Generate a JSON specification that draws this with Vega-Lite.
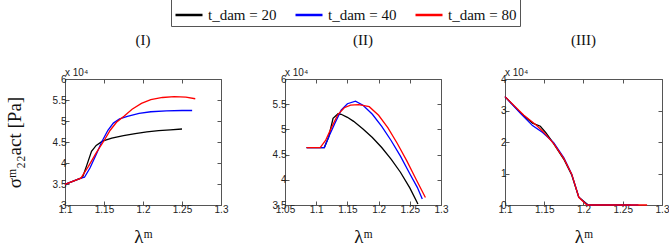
{
  "$schema": "https://vega.github.io/schema/vega-lite/v6.json",
  "padding": {"left": 4, "top": -4, "right": 2, "bottom": 2},
  "background": "white",
  "data": {"values": [
    {"p": "I", "t": "t_dam = 20", "lam": 1.1, "sig": 3.49},
    {"p": "I", "t": "t_dam = 20", "lam": 1.1204, "sig": 3.64},
    {"p": "I", "t": "t_dam = 20", "lam": 1.1225, "sig": 3.66},
    {"p": "I", "t": "t_dam = 20", "lam": 1.128, "sig": 3.95},
    {"p": "I", "t": "t_dam = 20", "lam": 1.134, "sig": 4.28},
    {"p": "I", "t": "t_dam = 20", "lam": 1.14, "sig": 4.42},
    {"p": "I", "t": "t_dam = 20", "lam": 1.148, "sig": 4.52},
    {"p": "I", "t": "t_dam = 20", "lam": 1.16, "sig": 4.59},
    {"p": "I", "t": "t_dam = 20", "lam": 1.175, "sig": 4.65},
    {"p": "I", "t": "t_dam = 20", "lam": 1.19, "sig": 4.7},
    {"p": "I", "t": "t_dam = 20", "lam": 1.205, "sig": 4.74},
    {"p": "I", "t": "t_dam = 20", "lam": 1.22, "sig": 4.77},
    {"p": "I", "t": "t_dam = 20", "lam": 1.235, "sig": 4.79},
    {"p": "I", "t": "t_dam = 20", "lam": 1.25, "sig": 4.81},
    {"p": "I", "t": "t_dam = 40", "lam": 1.1, "sig": 3.49},
    {"p": "I", "t": "t_dam = 40", "lam": 1.1204, "sig": 3.64},
    {"p": "I", "t": "t_dam = 40", "lam": 1.125, "sig": 3.66},
    {"p": "I", "t": "t_dam = 40", "lam": 1.132, "sig": 3.88},
    {"p": "I", "t": "t_dam = 40", "lam": 1.14, "sig": 4.2},
    {"p": "I", "t": "t_dam = 40", "lam": 1.147, "sig": 4.5},
    {"p": "I", "t": "t_dam = 40", "lam": 1.155, "sig": 4.78},
    {"p": "I", "t": "t_dam = 40", "lam": 1.162, "sig": 4.95},
    {"p": "I", "t": "t_dam = 40", "lam": 1.17, "sig": 5.05},
    {"p": "I", "t": "t_dam = 40", "lam": 1.18, "sig": 5.11},
    {"p": "I", "t": "t_dam = 40", "lam": 1.195, "sig": 5.18},
    {"p": "I", "t": "t_dam = 40", "lam": 1.21, "sig": 5.22},
    {"p": "I", "t": "t_dam = 40", "lam": 1.23, "sig": 5.24},
    {"p": "I", "t": "t_dam = 40", "lam": 1.25, "sig": 5.25},
    {"p": "I", "t": "t_dam = 40", "lam": 1.263, "sig": 5.25},
    {"p": "I", "t": "t_dam = 80", "lam": 1.1, "sig": 3.49},
    {"p": "I", "t": "t_dam = 80", "lam": 1.1204, "sig": 3.64},
    {"p": "I", "t": "t_dam = 80", "lam": 1.13, "sig": 3.92},
    {"p": "I", "t": "t_dam = 80", "lam": 1.14, "sig": 4.24},
    {"p": "I", "t": "t_dam = 80", "lam": 1.15, "sig": 4.53},
    {"p": "I", "t": "t_dam = 80", "lam": 1.158, "sig": 4.78},
    {"p": "I", "t": "t_dam = 80", "lam": 1.166, "sig": 4.97},
    {"p": "I", "t": "t_dam = 80", "lam": 1.176, "sig": 5.12},
    {"p": "I", "t": "t_dam = 80", "lam": 1.186, "sig": 5.28},
    {"p": "I", "t": "t_dam = 80", "lam": 1.198, "sig": 5.42},
    {"p": "I", "t": "t_dam = 80", "lam": 1.21, "sig": 5.51},
    {"p": "I", "t": "t_dam = 80", "lam": 1.225, "sig": 5.56},
    {"p": "I", "t": "t_dam = 80", "lam": 1.24, "sig": 5.58},
    {"p": "I", "t": "t_dam = 80", "lam": 1.255, "sig": 5.57},
    {"p": "I", "t": "t_dam = 80", "lam": 1.267, "sig": 5.53},

    {"p": "II", "t": "t_dam = 20", "lam": 1.0846, "sig": 4.64},
    {"p": "II", "t": "t_dam = 20", "lam": 1.113, "sig": 4.64},
    {"p": "II", "t": "t_dam = 20", "lam": 1.12, "sig": 4.85},
    {"p": "II", "t": "t_dam = 20", "lam": 1.127, "sig": 5.22},
    {"p": "II", "t": "t_dam = 20", "lam": 1.135, "sig": 5.31},
    {"p": "II", "t": "t_dam = 20", "lam": 1.14, "sig": 5.3},
    {"p": "II", "t": "t_dam = 20", "lam": 1.15, "sig": 5.24},
    {"p": "II", "t": "t_dam = 20", "lam": 1.16, "sig": 5.16},
    {"p": "II", "t": "t_dam = 20", "lam": 1.175, "sig": 5.01},
    {"p": "II", "t": "t_dam = 20", "lam": 1.19, "sig": 4.84},
    {"p": "II", "t": "t_dam = 20", "lam": 1.205, "sig": 4.64},
    {"p": "II", "t": "t_dam = 20", "lam": 1.22, "sig": 4.41},
    {"p": "II", "t": "t_dam = 20", "lam": 1.235, "sig": 4.15},
    {"p": "II", "t": "t_dam = 20", "lam": 1.25, "sig": 3.84},
    {"p": "II", "t": "t_dam = 20", "lam": 1.263, "sig": 3.52},
    {"p": "II", "t": "t_dam = 40", "lam": 1.0846, "sig": 4.64},
    {"p": "II", "t": "t_dam = 40", "lam": 1.113, "sig": 4.64},
    {"p": "II", "t": "t_dam = 40", "lam": 1.12, "sig": 4.85},
    {"p": "II", "t": "t_dam = 40", "lam": 1.13, "sig": 5.12},
    {"p": "II", "t": "t_dam = 40", "lam": 1.14, "sig": 5.38},
    {"p": "II", "t": "t_dam = 40", "lam": 1.15, "sig": 5.51},
    {"p": "II", "t": "t_dam = 40", "lam": 1.163, "sig": 5.56},
    {"p": "II", "t": "t_dam = 40", "lam": 1.175, "sig": 5.48},
    {"p": "II", "t": "t_dam = 40", "lam": 1.19, "sig": 5.3},
    {"p": "II", "t": "t_dam = 40", "lam": 1.205, "sig": 5.06},
    {"p": "II", "t": "t_dam = 40", "lam": 1.22, "sig": 4.78},
    {"p": "II", "t": "t_dam = 40", "lam": 1.235, "sig": 4.47},
    {"p": "II", "t": "t_dam = 40", "lam": 1.25, "sig": 4.12},
    {"p": "II", "t": "t_dam = 40", "lam": 1.262, "sig": 3.85},
    {"p": "II", "t": "t_dam = 40", "lam": 1.27, "sig": 3.62},
    {"p": "II", "t": "t_dam = 80", "lam": 1.0846, "sig": 4.64},
    {"p": "II", "t": "t_dam = 80", "lam": 1.1064, "sig": 4.64},
    {"p": "II", "t": "t_dam = 80", "lam": 1.115, "sig": 4.78},
    {"p": "II", "t": "t_dam = 80", "lam": 1.125, "sig": 5.05},
    {"p": "II", "t": "t_dam = 80", "lam": 1.135, "sig": 5.3},
    {"p": "II", "t": "t_dam = 80", "lam": 1.145, "sig": 5.43},
    {"p": "II", "t": "t_dam = 80", "lam": 1.155, "sig": 5.48},
    {"p": "II", "t": "t_dam = 80", "lam": 1.168, "sig": 5.49},
    {"p": "II", "t": "t_dam = 80", "lam": 1.185, "sig": 5.45},
    {"p": "II", "t": "t_dam = 80", "lam": 1.2, "sig": 5.28},
    {"p": "II", "t": "t_dam = 80", "lam": 1.215, "sig": 5.03},
    {"p": "II", "t": "t_dam = 80", "lam": 1.23, "sig": 4.72},
    {"p": "II", "t": "t_dam = 80", "lam": 1.245, "sig": 4.38},
    {"p": "II", "t": "t_dam = 80", "lam": 1.26, "sig": 4.01},
    {"p": "II", "t": "t_dam = 80", "lam": 1.275, "sig": 3.65},

    {"p": "III", "t": "t_dam = 20", "lam": 1.1, "sig": 3.44},
    {"p": "III", "t": "t_dam = 20", "lam": 1.12, "sig": 2.92},
    {"p": "III", "t": "t_dam = 20", "lam": 1.135, "sig": 2.6},
    {"p": "III", "t": "t_dam = 20", "lam": 1.145, "sig": 2.5},
    {"p": "III", "t": "t_dam = 20", "lam": 1.152, "sig": 2.3},
    {"p": "III", "t": "t_dam = 20", "lam": 1.162, "sig": 1.95},
    {"p": "III", "t": "t_dam = 20", "lam": 1.175, "sig": 1.45},
    {"p": "III", "t": "t_dam = 20", "lam": 1.185, "sig": 0.95},
    {"p": "III", "t": "t_dam = 20", "lam": 1.194, "sig": 0.25},
    {"p": "III", "t": "t_dam = 20", "lam": 1.206, "sig": 0},
    {"p": "III", "t": "t_dam = 20", "lam": 1.26, "sig": 0},
    {"p": "III", "t": "t_dam = 40", "lam": 1.1, "sig": 3.44},
    {"p": "III", "t": "t_dam = 40", "lam": 1.12, "sig": 2.9},
    {"p": "III", "t": "t_dam = 40", "lam": 1.135, "sig": 2.52},
    {"p": "III", "t": "t_dam = 40", "lam": 1.148, "sig": 2.3},
    {"p": "III", "t": "t_dam = 40", "lam": 1.162, "sig": 1.98},
    {"p": "III", "t": "t_dam = 40", "lam": 1.175, "sig": 1.5},
    {"p": "III", "t": "t_dam = 40", "lam": 1.185, "sig": 0.98},
    {"p": "III", "t": "t_dam = 40", "lam": 1.194, "sig": 0.25},
    {"p": "III", "t": "t_dam = 40", "lam": 1.205, "sig": 0},
    {"p": "III", "t": "t_dam = 40", "lam": 1.27, "sig": 0},
    {"p": "III", "t": "t_dam = 80", "lam": 1.1, "sig": 3.44},
    {"p": "III", "t": "t_dam = 80", "lam": 1.124, "sig": 2.85},
    {"p": "III", "t": "t_dam = 80", "lam": 1.14, "sig": 2.53},
    {"p": "III", "t": "t_dam = 80", "lam": 1.149, "sig": 2.32},
    {"p": "III", "t": "t_dam = 80", "lam": 1.162, "sig": 1.95},
    {"p": "III", "t": "t_dam = 80", "lam": 1.175, "sig": 1.47},
    {"p": "III", "t": "t_dam = 80", "lam": 1.185, "sig": 0.98},
    {"p": "III", "t": "t_dam = 80", "lam": 1.194, "sig": 0.245},
    {"p": "III", "t": "t_dam = 80", "lam": 1.2045, "sig": 0},
    {"p": "III", "t": "t_dam = 80", "lam": 1.281, "sig": 0}
  ]},
  "config": {
    "view": {"stroke": "#555555", "strokeWidth": 1},
    "axis": {
      "grid": false, "domain": false,
      "labelFont": "Liberation Sans", "labelFontSize": 10, "labelColor": "#222222",
      "tickColor": "#555555", "tickSize": -4, "labelPadding": 3,
      "titleFont": "Liberation Serif", "titleFontWeight": "normal", "titleFontSize": 19, "titleColor": "#111111"
    },
    "title": {"font": "Liberation Serif", "fontSize": 15, "fontWeight": "normal", "color": "#111111", "anchor": "middle"},
    "legend": {
      "orient": "none", "legendX": 106, "legendY": -82, "direction": "horizontal",
      "strokeColor": "#555555", "fillColor": "white", "padding": 3,
      "symbolType": "stroke", "symbolStrokeWidth": 2.5, "symbolSize": 729,
      "labelFont": "Liberation Serif", "labelFontSize": 15, "labelColor": "#111111",
      "columnPadding": 13, "labelOffset": 4
    }
  },
  "spacing": 64,
  "bounds": "flush",
  "hconcat": [
    {
      "title": {"text": "(I)", "offset": 20},
      "width": 156, "height": 126,
      "resolve": {"axis": {"x": "independent", "y": "independent"}},
      "layer": [
        {
          "transform": [{"filter": "datum.p == 'I'"}],
          "mark": {"type": "line", "strokeWidth": 1.3},
          "encoding": {
            "x": {"field": "lam", "type": "quantitative", "scale": {"domain": [1.1, 1.3], "nice": false, "zero": false},
                  "axis": {"values": [1.1, 1.15, 1.2, 1.25, 1.3], "format": "~g", "labelOverlap": false, "labelBound": false, "labelFlush": false, "title": "λᵐ", "titlePadding": 13}},
            "y": {"field": "sig", "type": "quantitative", "scale": {"domain": [3, 6], "nice": false, "zero": false},
                  "axis": {"values": [3, 3.5, 4, 4.5, 5, 5.5, 6], "format": "~g", "labelOverlap": false, "labelBound": false, "labelFlush": false, "title": "σᵐ₂₂act [Pa]", "titlePadding": 28}},
            "color": {"field": "t", "type": "nominal", "title": null,
                      "scale": {"domain": ["t_dam = 20", "t_dam = 40", "t_dam = 80"], "range": ["#000000", "#0000ff", "#ff0000"]}}
          }
        },
        {
          "transform": [{"filter": "datum.p == 'I'"}],
          "mark": {"type": "line", "strokeOpacity": 0},
          "encoding": {
            "x": {"field": "lam", "type": "quantitative", "axis": {"orient": "top", "values": [1.1, 1.15, 1.2, 1.25, 1.3], "labels": false, "title": null}},
            "y": {"field": "sig", "type": "quantitative", "axis": {"orient": "right", "values": [3, 3.5, 4, 4.5, 5, 5.5, 6], "labels": false, "title": null}}
          }
        },
        {
          "data": {"values": [{"label": "x 10⁴"}]},
          "mark": {"type": "text", "align": "left", "baseline": "bottom", "dy": -1, "font": "Liberation Sans", "fontSize": 10, "color": "#222222"},
          "encoding": {"x": {"datum": 1.1, "axis": null}, "y": {"datum": 6, "axis": null}, "text": {"field": "label"}}
        }
      ]
    },
    {
      "title": {"text": "(II)", "offset": 20},
      "width": 156, "height": 126,
      "resolve": {"axis": {"x": "independent", "y": "independent"}},
      "layer": [
        {
          "transform": [{"filter": "datum.p == 'II'"}],
          "mark": {"type": "line", "strokeWidth": 1.3},
          "encoding": {
            "x": {"field": "lam", "type": "quantitative", "scale": {"domain": [1.05, 1.3], "nice": false, "zero": false},
                  "axis": {"values": [1.05, 1.1, 1.15, 1.2, 1.25, 1.3], "format": "~g", "labelOverlap": false, "labelBound": false, "labelFlush": false, "title": "λᵐ", "titlePadding": 13}},
            "y": {"field": "sig", "type": "quantitative", "scale": {"domain": [3.5, 6], "nice": false, "zero": false},
                  "axis": {"values": [3.5, 4, 4.5, 5, 5.5, 6], "format": "~g", "labelOverlap": false, "labelBound": false, "labelFlush": false, "title": null}},
            "color": {"field": "t", "type": "nominal", "title": null,
                      "scale": {"domain": ["t_dam = 20", "t_dam = 40", "t_dam = 80"], "range": ["#000000", "#0000ff", "#ff0000"]}}
          }
        },
        {
          "transform": [{"filter": "datum.p == 'II'"}],
          "mark": {"type": "line", "strokeOpacity": 0},
          "encoding": {
            "x": {"field": "lam", "type": "quantitative", "axis": {"orient": "top", "values": [1.05, 1.1, 1.15, 1.2, 1.25, 1.3], "labels": false, "title": null}},
            "y": {"field": "sig", "type": "quantitative", "axis": {"orient": "right", "values": [3.5, 4, 4.5, 5, 5.5, 6], "labels": false, "title": null}}
          }
        },
        {
          "data": {"values": [{"label": "x 10⁴"}]},
          "mark": {"type": "text", "align": "left", "baseline": "bottom", "dy": -1, "font": "Liberation Sans", "fontSize": 10, "color": "#222222"},
          "encoding": {"x": {"datum": 1.05, "axis": null}, "y": {"datum": 6, "axis": null}, "text": {"field": "label"}}
        }
      ]
    },
    {
      "title": {"text": "(III)", "offset": 20},
      "width": 157, "height": 126,
      "resolve": {"axis": {"x": "independent", "y": "independent"}},
      "layer": [
        {
          "transform": [{"filter": "datum.p == 'III'"}],
          "mark": {"type": "line", "strokeWidth": 1.3},
          "encoding": {
            "x": {"field": "lam", "type": "quantitative", "scale": {"domain": [1.1, 1.3], "nice": false, "zero": false},
                  "axis": {"values": [1.1, 1.15, 1.2, 1.25, 1.3], "format": "~g", "labelOverlap": false, "labelBound": false, "labelFlush": false, "title": "λᵐ", "titlePadding": 13}},
            "y": {"field": "sig", "type": "quantitative", "scale": {"domain": [0, 4], "nice": false, "zero": false},
                  "axis": {"values": [0, 1, 2, 3, 4], "format": "~g", "labelOverlap": false, "labelBound": false, "labelFlush": false, "title": null}},
            "color": {"field": "t", "type": "nominal", "title": null,
                      "scale": {"domain": ["t_dam = 20", "t_dam = 40", "t_dam = 80"], "range": ["#000000", "#0000ff", "#ff0000"]}}
          }
        },
        {
          "transform": [{"filter": "datum.p == 'III'"}],
          "mark": {"type": "line", "strokeOpacity": 0},
          "encoding": {
            "x": {"field": "lam", "type": "quantitative", "axis": {"orient": "top", "values": [1.1, 1.15, 1.2, 1.25, 1.3], "labels": false, "title": null}},
            "y": {"field": "sig", "type": "quantitative", "axis": {"orient": "right", "values": [0, 1, 2, 3, 4], "labels": false, "title": null}}
          }
        },
        {
          "data": {"values": [{"label": "x 10⁴"}]},
          "mark": {"type": "text", "align": "left", "baseline": "bottom", "dy": -1, "font": "Liberation Sans", "fontSize": 10, "color": "#222222"},
          "encoding": {"x": {"datum": 1.1, "axis": null}, "y": {"datum": 4, "axis": null}, "text": {"field": "label"}}
        }
      ]
    }
  ]
}
